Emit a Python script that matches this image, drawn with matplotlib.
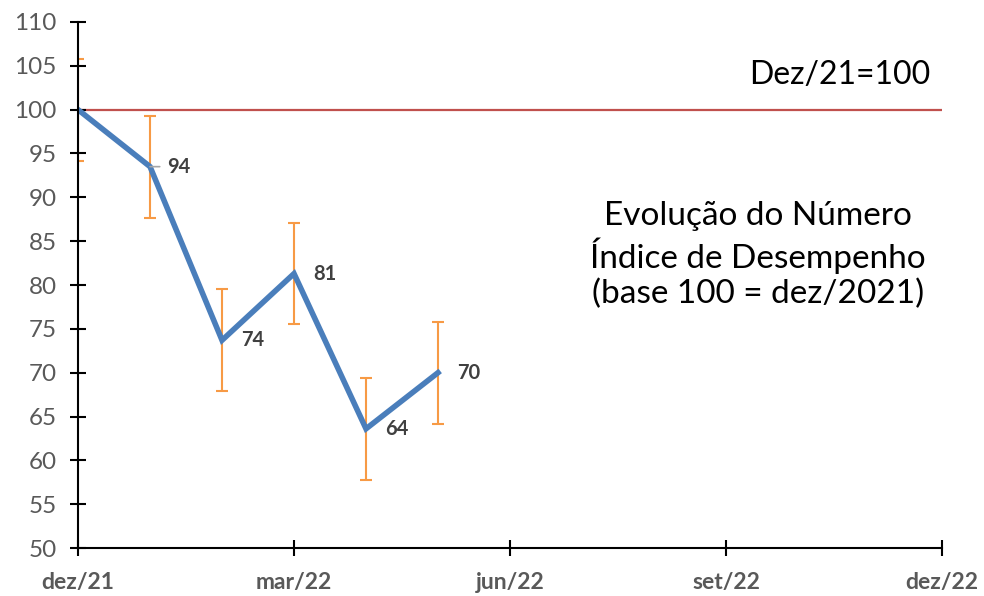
import matplotlib.pyplot as plt

plt.rcParams['font.family'] = ['Lato', 'DejaVu Sans']

# months since dez/21 (Excel date axis, base unit = month)
months = [0, 1, 2, 3, 4, 5]
index_values = [100.0, 93.5, 73.7, 81.3, 63.6, 70.0]
error_margin = [5.8, 5.8, 5.8, 5.8, 5.8, 5.8]
value_labels = ["", "94", "74", "81", "64", "70"]

tick_months = [0, 3, 6, 9, 12]
tick_labels = ["dez/21", "mar/22", "jun/22", "set/22", "dez/22"]
y_ticks = list(range(50, 111, 5))
base_value = 100

fig = plt.figure(figsize=(9.84, 5.96), dpi=100)
ax = fig.add_axes([0.0793, 0.0805, 0.8780, 0.8826])

ax.axhline(base_value, color="#C0504D", linewidth=1.6, zorder=1)
ax.errorbar(months, index_values, yerr=error_margin, fmt="none",
            ecolor="#F79A45", elinewidth=1.5, capsize=4.5, capthick=1.5, zorder=2)
ax.plot(months, index_values, color="#4A7EBB", linewidth=4.0,
        solid_joinstyle="miter", zorder=3)

for m, v, lab in zip(months, index_values, value_labels):
    if not lab:
        continue
    if lab == "94":
        ax.annotate(lab, xy=(m, v), xytext=(12, 0), textcoords="offset points",
                    ha="left", va="center", fontsize=14.5, fontweight="bold",
                    color="#404040",
                    arrowprops=dict(arrowstyle="-", color="#A6A6A6", lw=1.2,
                                    shrinkA=3, shrinkB=0))
    else:
        ax.annotate(lab, xy=(m, v), xytext=(14, 0), textcoords="offset points",
                    ha="left", va="center", fontsize=14.5, fontweight="bold",
                    color="#404040")

ax.set_xlim(0, 12)
ax.set_ylim(50, 110)
ax.set_xticks(tick_months)
ax.set_xticklabels(tick_labels, fontsize=16.5, fontweight="bold", color="#595959")
ax.set_yticks(y_ticks)
ax.set_yticklabels([str(y) for y in y_ticks], fontsize=17.5, color="#595959")
ax.tick_params(axis="both", direction="inout", length=11, width=1.5, color="black")
ax.tick_params(axis="x", pad=12)
ax.tick_params(axis="y", pad=10)

for side in ["top", "right"]:
    ax.spines[side].set_visible(False)
for side in ["left", "bottom"]:
    ax.spines[side].set_linewidth(1.5)
    ax.spines[side].set_color("black")
    ax.spines[side].set_zorder(4)

ax.text(0.986, 0.899, "Dez/21=100", transform=ax.transAxes, ha="right",
        va="center", fontsize=23, color="black")
ax.text(0.787, 0.557, "Evolução do Número\nÍndice de Desempenho\n(base 100 = dez/2021)",
        transform=ax.transAxes, ha="center", va="center", fontsize=24,
        color="black", linespacing=1.22)

fig.savefig("out.png", dpi=100)
